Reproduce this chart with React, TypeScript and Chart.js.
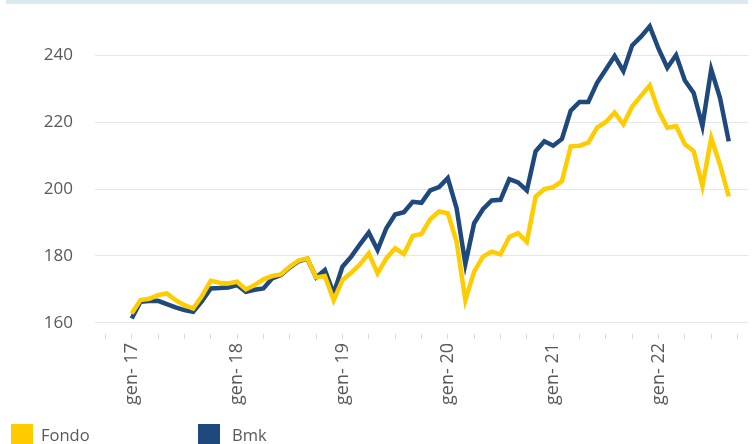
import React, { useEffect, useRef } from "react";
import { Chart, registerables } from "chart.js";

Chart.register(...registerables);

// Monthly data, gen-17 .. set-22
const fondo = [
  162.8, 166.8, 167.2, 168.3, 168.8, 166.8, 165.3, 164.3, 168.0, 172.6, 172.0, 171.8,
  172.3, 170.0, 171.3, 173.0, 174.0, 174.5, 176.8, 178.6, 179.3, 173.6, 174.0, 166.8,
  172.8, 175.0, 177.5, 180.8, 174.8, 179.3, 182.3, 180.6, 186.0, 186.6, 191.0, 193.3,
  192.8, 184.3, 166.8, 175.3, 179.8, 181.3, 180.5, 185.7, 186.8, 184.2, 197.8, 200.0,
  200.6, 202.4, 212.8, 213.0, 213.9, 218.4, 220.1, 222.9, 219.4, 224.7, 227.9, 231.0,
  223.4, 218.4, 218.9, 213.4, 211.4, 200.9, 215.3, 207.3, 197.8,
];
const bmk = [
  161.3, 166.3, 166.5, 166.6, 165.6, 164.6, 163.8, 163.3, 166.5, 170.3, 170.4, 170.6,
  171.3, 169.3, 169.9, 170.3, 173.3, 174.3, 176.6, 178.4, 179.2, 173.6, 175.8, 168.8,
  176.8, 179.8, 183.5, 187.0, 181.8, 188.3, 192.4, 193.1, 196.2, 195.9, 199.6, 200.6,
  203.3, 194.3, 177.6, 189.8, 194.0, 196.6, 196.8, 203.0, 202.0, 199.6, 211.3, 214.3,
  213.0, 215.0, 223.5, 226.1, 226.1, 231.8, 235.8, 239.8, 235.3, 243.0, 245.6, 248.7,
  242.0, 236.3, 240.1, 232.5, 228.8, 218.9, 235.8, 227.3, 214.3,
];
const yearLabels = ["gen- 17", "gen- 18", "gen- 19", "gen- 20", "gen- 21", "gen- 22"];
const yTicks = [160, 180, 200, 220, 240];
const seriesNames = ["Fondo", "Bmk"];
const colors = ["#FFCC00", "#1F497D"];

const FONT = "'Open Sans', sans-serif";
const TEXT = "#595959";

export default function App() {
  const ref = useRef<HTMLCanvasElement>(null);

  useEffect(() => {
    const canvas = ref.current;
    if (!canvas) return;
    const toPts = (arr: number[]) => arr.map((v, i) => ({ x: i, y: v }));
    const chart = new Chart(canvas, {
      type: "line",
      data: {
        datasets: [
          {
            label: seriesNames[0],
            data: toPts(fondo),
            borderColor: colors[0],
            backgroundColor: colors[0],
            borderWidth: 4.5,
            pointRadius: 0,
            tension: 0,
          },
          {
            label: seriesNames[1],
            data: toPts(bmk),
            borderColor: colors[1],
            backgroundColor: colors[1],
            borderWidth: 4.5,
            pointRadius: 0,
            tension: 0,
          },
        ],
      },
      options: {
        animation: false,
        responsive: false,
        devicePixelRatio: 1,
        layout: { padding: { top: 22, right: 8, left: 0, bottom: 0 } },
        plugins: {
          legend: { display: false },
          tooltip: { enabled: false },
        },
        scales: {
          x: {
            type: "linear",
            min: -4.18,
            max: 70.19,
            border: { display: false },
            grid: {
              drawOnChartArea: false,
              drawTicks: true,
              tickLength: 5,
              color: "#d9d9d9",
            },
            afterBuildTicks: (scale: any) => {
              const t: any[] = [];
              for (let v = -3; v <= 69; v += 3) t.push({ value: v });
              scale.ticks = t;
            },
            afterFit: (scale: any) => {
              scale.height = 110;
              scale.paddingLeft = 0;
              scale.paddingRight = 0;
            },
            ticks: {
              autoSkip: false,
              minRotation: 90,
              maxRotation: 90,
              padding: 4,
              color: TEXT,
              font: { family: FONT, size: 18 },
              callback: (value: any) => {
                const v = Number(value);
                if (v >= 0 && v % 12 === 0) return yearLabels[v / 12] ?? "";
                return "";
              },
            },
          },
          y: {
            type: "linear",
            min: 156.66,
            max: 250,
            border: { display: false },
            grid: { drawTicks: false, color: "#e6e6e6", lineWidth: 1 },
            afterBuildTicks: (scale: any) => {
              scale.ticks = yTicks.map((v) => ({ value: v }));
            },
            afterFit: (scale: any) => {
              scale.width = 95;
              scale.paddingTop = 0;
              scale.paddingBottom = 0;
            },
            ticks: {
              padding: 22,
              color: TEXT,
              font: { family: FONT, size: 17 },
              callback: (value: any) => String(value),
            },
          },
        },
      },
    });
    return () => chart.destroy();
  }, []);

  const legendText: React.CSSProperties = {
    position: "absolute",
    top: 425,
    fontFamily: FONT,
    fontSize: 16.5,
    lineHeight: "20px",
    color: TEXT,
    whiteSpace: "nowrap",
  };

  return (
    <div
      style={{
        position: "absolute",
        left: 0,
        top: 0,
        width: 756,
        height: 444,
        overflow: "hidden",
        background: "#ffffff",
      }}
    >
      <div
        style={{
          position: "absolute",
          left: 6,
          top: 0,
          width: 742,
          height: 4,
          background: "#dce9f1",
        }}
      />
      <canvas ref={ref} width={756} height={444} style={{ position: "absolute", left: 0, top: 0 }} />
      <div style={{ position: "absolute", left: 11, top: 424, width: 22, height: 22, background: colors[0] }} />
      <div style={{ ...legendText, left: 41 }}>{seriesNames[0]}</div>
      <div style={{ position: "absolute", left: 198, top: 424, width: 22, height: 22, background: colors[1] }} />
      <div style={{ ...legendText, left: 232 }}>{seriesNames[1]}</div>
    </div>
  );
}
